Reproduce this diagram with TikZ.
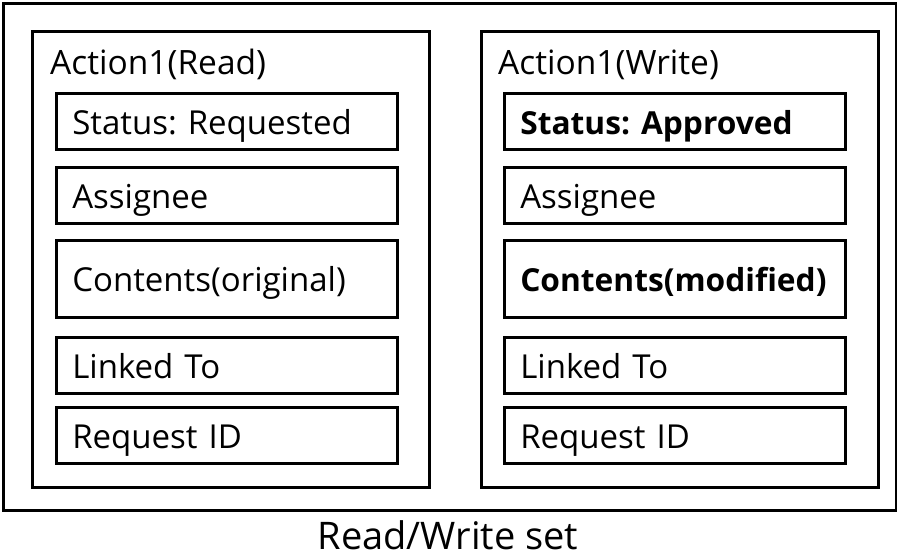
\documentclass[tikz,border=0pt]{standalone}
\usepackage{fontspec}
\setmainfont{Open Sans}
\newcommand{\bfield}[1]{{\fontsize{31.7}{36}\selectfont\bfseries #1}}
\begin{document}
\frenchspacing
\begin{tikzpicture}[x=1pt,y=-1pt,
  frame/.style={draw=black,line width=2.6pt},
  field/.style={draw=black,line width=2.6pt,anchor=north west,minimum height=56pt,minimum width=341pt,inner sep=0pt,text width=309pt,text height=28pt,text depth=2pt,align=left,font=\fontsize{33}{36}\selectfont},
  title/.style={anchor=base west,inner sep=0pt,font=\fontsize{33.5}{36}\selectfont}]
\useasboundingbox (0,0) rectangle (897,559);
\node[frame,minimum width=893pt,minimum height=507pt,anchor=north west,inner sep=0pt] (outer) at (2,2) {};
\node[frame,minimum width=397pt,minimum height=456pt,anchor=north west,inner sep=0pt] (left) at (31,30) {};
\node[frame,minimum width=397pt,minimum height=456pt,anchor=north west,inner sep=0pt] (right) at (480,30) {};
\node[title] (lt) at (50,75) {Action1(Read)};
\node[title] (rt) at (498,75) {Action1(Write)};
% left fields
\node[field] (l1) at (55,92) {Status: Requested};
\node[field] (l2) at (55,166) {Assignee};
\node[field,minimum height=77pt] (l3) at (55,239) {Contents(original)};
\node[field] (l4) at (55,336) {Linked To};
\node[field] (l5) at (55,406) {Request ID};
% right fields
\node[field] (r1) at (503,92) {\bfield{Status: Approved}};
\node[field] (r2) at (503,166) {Assignee};
\node[field,minimum height=77pt] (r3) at (503,239) {\bfield{Contents(modified)}};
\node[field] (r4) at (503,336) {Linked To};
\node[field] (r5) at (503,406) {Request ID};
\node[inner sep=0pt,anchor=base,font=\fontsize{38}{42}\selectfont] (cap) at (448,549) {Read/Write set};
\end{tikzpicture}
\end{document}
